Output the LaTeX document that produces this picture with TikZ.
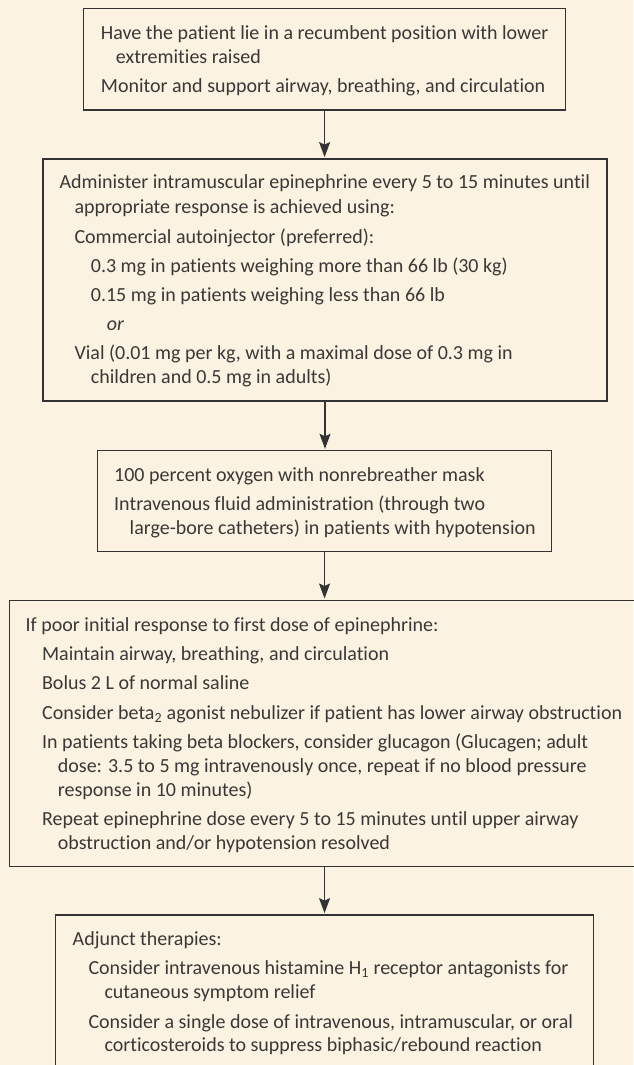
\documentclass[tikz,border=0pt]{standalone}
\usepackage{fontspec}
\setmainfont{Carlito}[Ligatures={NoCommon}]
\usetikzlibrary{arrows.meta}
\definecolor{bgcream}{RGB}{252,242,226}
\definecolor{ink}{RGB}{51,51,51}
\definecolor{txt}{RGB}{58,56,54}
\tikzset{
  flowbox/.style={draw=ink, line width=1.2pt, fill=none, inner sep=0pt, anchor=north west},
  ln/.style={anchor=base west, inner sep=0pt, text=txt, font=\fontsize{20pt}{24pt}\selectfont},
  arr/.style={draw=ink, line width=1.2pt, -{Stealth[length=15pt,width=11pt,inset=2.5pt]}, shorten >=1.2pt}
}
\begin{document}
\begin{tikzpicture}[x=1pt,y=-1pt]
\fill[bgcream] (0,0) rectangle (633,1065);
\useasboundingbox (0,0) rectangle (633,1065);

% boxes
\node[flowbox, minimum width=482.4pt, minimum height=101pt] (b1) at (82.8,8.3) {};
\node[flowbox, minimum width=564pt, minimum height=242pt] (b2) at (42.4,158.3) {};
\node[flowbox, minimum width=454.1pt, minimum height=100.7pt] (b3) at (96.9,450) {};
\node[flowbox, minimum width=630.8pt, minimum height=266pt] (b4) at (8.6,599.7) {};
\node[flowbox, minimum width=537.6pt, minimum height=180pt] (b5) at (55.2,914.3) {};

% arrows
\draw[arr] (b1.south) -- (b1.south |- b2.north);
\draw[arr] (b2.south) -- (b2.south |- b3.north);
\draw[arr] (b3.south) -- (b3.south |- b4.north);
\draw[arr] (b3.south |- b4.south) -- (b3.south |- b5.north);

% box 1 text
\node[ln] (t1a) at (100.7,39.3) {Have the patient lie in a recumbent position with lower};
\node[ln] (t1b) at (115.7,63.5) {extremities raised};
\node[ln] (t1c) at (100.7,92.7) {Monitor and support airway, breathing, and circulation};

% box 2 text
\node[ln] (t2a) at (59.3,188.3) {Administer intramuscular epinephrine every 5 to 15 minutes until};
\node[ln] (t2b) at (74.3,213.3) {appropriate response is achieved using:};
\node[ln] (t2c) at (74.3,243.3) {Commercial autoinjector (preferred):};
\node[ln] (t2d) at (90.7,272.7) {0.3 mg in patients weighing more than 66 lb (30 kg)};
\node[ln] (t2e) at (90.7,301.5) {0.15 mg in patients weighing less than 66 lb};
\node[ln] (t2f) at (106.7,330.7) {\textit{or}};
\node[ln] (t2g) at (74.3,359.3) {Vial (0.01 mg per kg, with a maximal dose of 0.3 mg in};
\node[ln] (t2h) at (90.7,383.8) {children and 0.5 mg in adults)};

% box 3 text
\node[ln] (t3a) at (114,481) {100 percent oxygen with nonrebreather mask};
\node[ln] (t3b) at (114,510) {Intravenous fluid administration (through two};
\node[ln] (t3c) at (129.5,534.5) {large-bore catheters) in patients with hypotension};

% box 4 text
\node[ln] (t4a) at (25.5,631.7) {If poor initial response to first dose of epinephrine:};
\node[ln] (t4b) at (41.9,660.3) {Maintain airway, breathing, and circulation};
\node[ln] (t4c) at (41.9,689.3) {Bolus 2 L of normal saline};
\node[ln] (t4d) at (41.9,719) {Consider beta\textsubscript{2} agonist nebulizer if patient has lower airway obstruction};
\node[ln] (t4e) at (41.9,748.3) {In patients taking beta blockers, consider glucagon (Glucagen; adult};
\node[ln] (t4f) at (57.7,772.5) {dose: 3.5 to 5 mg intravenously once, repeat if no blood pressure};
\node[ln] (t4g) at (57.7,796.7) {response in 10 minutes)};
\node[ln] (t4h) at (41.9,825) {Repeat epinephrine dose every 5 to 15 minutes until upper airway};
\node[ln] (t4i) at (57.7,849.3) {obstruction and/or hypotension resolved};

% box 5 text
\node[ln] (t5a) at (72.5,945) {Adjunct therapies:};
\node[ln] (t5b) at (88.3,974) {Consider intravenous histamine H\textsubscript{1} receptor antagonists for};
\node[ln] (t5c) at (104.3,998.3) {cutaneous symptom relief};
\node[ln] (t5d) at (88.3,1028) {Consider a single dose of intravenous, intramuscular, or oral};
\node[ln] (t5e) at (104.3,1051.7) {corticosteroids to suppress biphasic/rebound reaction};
\end{tikzpicture}
\end{document}
